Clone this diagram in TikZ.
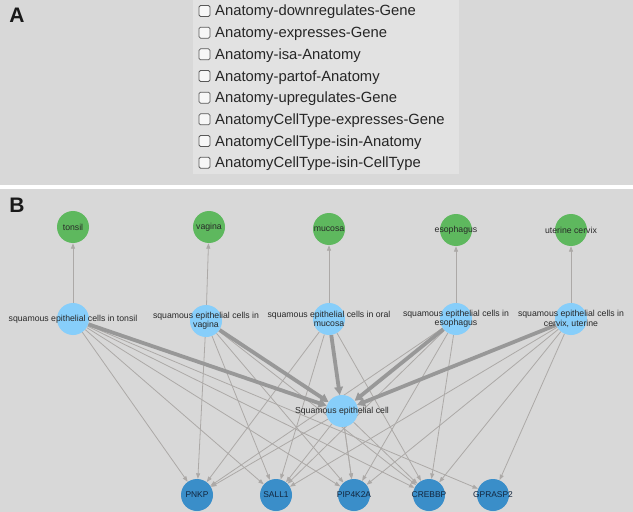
\documentclass[tikz,border=0pt]{standalone}
\usepackage{fontspec}
\setmainfont{Liberation Sans}
\usetikzlibrary{arrows.meta}

\pgfdeclarelayer{panels}
\pgfdeclarelayer{edges}
\pgfsetlayers{panels,edges,main}

\definecolor{panelgray}{RGB}{216,216,216}
\definecolor{listgray}{RGB}{226,226,226}
\definecolor{anatgreen}{RGB}{94,184,94}
\definecolor{cellblue}{RGB}{135,206,250}
\definecolor{geneblue}{RGB}{58,142,201}
\definecolor{thinedge}{RGB}{172,169,167}
\definecolor{thickedge}{RGB}{152,152,152}
\definecolor{labeltext}{RGB}{40,40,40}
\definecolor{genetext}{RGB}{18,38,62}

\tikzset{
  vertex/.style={circle, minimum size=32bp, inner sep=0pt},
  anatomy/.style={vertex, fill=anatgreen},
  celltype/.style={vertex, fill=cellblue},
  gene/.style={vertex, fill=geneblue},
  nodetext/.style={font=\fontsize{8.7bp}{9.4bp}\selectfont, text=labeltext, align=center, inner sep=0pt},
  genetag/.style={font=\fontsize{8.4bp}{9bp}\selectfont, text=genetext, inner sep=0pt},
  thin edge/.style={draw=thinedge, line width=0.8bp, -{Triangle[length=5.5bp,width=4bp]}},
  heavy edge/.style={draw=thickedge, line width=3.8bp, -{Triangle[length=8bp,width=8.5bp]}},
  checkbox/.style={draw=black!65, fill=black!3, rounded corners=1.5bp, minimum size=11bp, inner sep=0pt, line width=0.8bp},
  itemtext/.style={font=\fontsize{14.8bp}{16bp}\selectfont, text=black!85, anchor=base west, inner sep=0pt},
  panelletter/.style={font=\fontsize{21bp}{24bp}\selectfont\bfseries, text=black!90, inner sep=0pt}
}

\begin{document}
\begin{tikzpicture}[x=1bp, y=-1bp]
  \useasboundingbox (0,0) rectangle (633,512);
  \begin{pgfonlayer}{panels}
    \fill[panelgray] (0,0) rectangle (633,512);
    \fill[white] (0,185.5) rectangle (633,189);
    \fill[listgray] (193,0) rectangle (459,174);
  \end{pgfonlayer}

  % panel A: edge type list
  \node[panelletter] (lettA) at (17,15) {A};
  \foreach \lbl [count=\i] in {Anatomy-downregulates-Gene, Anatomy-expresses-Gene,
      Anatomy-isa-Anatomy, Anatomy-partof-Anatomy, Anatomy-upregulates-Gene,
      AnatomyCellType-expresses-Gene, AnatomyCellType-isin-Anatomy,
      AnatomyCellType-isin-CellType} {
    \node[checkbox] (chk\i) at (204.5, {11+21.67*(\i-1)}) {};
    \node[itemtext] (item\i) at (215, {16+21.67*(\i-1)}) {\lbl};
  }

  % panel B: graph
  \node[panelletter] (lettB) at (17,205) {B};

  \node[anatomy] (tonsil) at (73,227) {};
  \node[anatomy] (vagina) at (209,227) {};
  \node[anatomy] (mucosa) at (329,229) {};
  \node[anatomy] (esophagus) at (456,230) {};
  \node[anatomy] (cervix) at (571,230) {};

  \node[celltype] (sec-tonsil) at (73,319) {};
  \node[celltype] (sec-vagina) at (206,321) {};
  \node[celltype] (sec-oral) at (329,319) {};
  \node[celltype] (sec-esoph) at (456,319) {};
  \node[celltype] (sec-cervix) at (571,319) {};
  \node[celltype] (sec) at (342,411) {};

  \node[gene] (pnkp) at (197,495) {};
  \node[gene] (sall1) at (276,495) {};
  \node[gene] (pip4k2a) at (354,495) {};
  \node[gene] (crebbp) at (429,495) {};
  \node[gene] (gprasp2) at (493,495) {};

  \begin{pgfonlayer}{edges}
    \foreach \src/\dst in {sec-tonsil/tonsil, sec-vagina/vagina, sec-oral/mucosa,
        sec-esoph/esophagus, sec-cervix/cervix}
      \draw[thin edge] (\src) -- (\dst);
    \foreach \src/\dst in {sec-tonsil/pnkp, sec-tonsil/sall1, sec-tonsil/pip4k2a,
        sec-tonsil/crebbp, sec-tonsil/gprasp2,
        sec-vagina/pnkp, sec-vagina/sall1, sec-vagina/pip4k2a, sec-vagina/crebbp,
        sec-oral/pnkp, sec-oral/sall1, sec-oral/pip4k2a, sec-oral/crebbp,
        sec-esoph/pnkp, sec-esoph/sall1, sec-esoph/pip4k2a, sec-esoph/crebbp,
        sec-cervix/sall1, sec-cervix/pip4k2a, sec-cervix/crebbp, sec-cervix/gprasp2,
        sec/pnkp, sec/sall1, sec/pip4k2a, sec/crebbp}
      \draw[thin edge] (\src) -- (\dst);
    \foreach \src in {sec-tonsil, sec-vagina, sec-oral, sec-esoph, sec-cervix}
      \draw[heavy edge] (\src) -- (sec);
  \end{pgfonlayer}

  % labels on top
  \foreach \n/\txt in {tonsil/tonsil, vagina/vagina, mucosa/mucosa,
      esophagus/esophagus, cervix/uterine cervix}
    \node[nodetext] (\n-lbl) at (\n) {\txt};
  \node[nodetext] (sec-tonsil-lbl) at (sec-tonsil) {squamous epithelial cells in tonsil};
  \node[nodetext] (sec-vagina-lbl) at (sec-vagina) {squamous epithelial cells in\\vagina};
  \node[nodetext] (sec-oral-lbl) at (sec-oral) {squamous epithelial cells in oral\\mucosa};
  \node[nodetext] (sec-esoph-lbl) at (sec-esoph) {squamous epithelial cells in\\esophagus};
  \node[nodetext] (sec-cervix-lbl) at (sec-cervix) {squamous epithelial cells in\\cervix, uterine};
  \node[nodetext] (sec-lbl) at (sec) {Squamous epithelial cell};
  \foreach \n/\txt in {pnkp/PNKP, sall1/SALL1, pip4k2a/PIP4K2A, crebbp/CREBBP, gprasp2/GPRASP2}
    \node[genetag] (\n-lbl) at (\n) {\txt};
\end{tikzpicture}
\end{document}
